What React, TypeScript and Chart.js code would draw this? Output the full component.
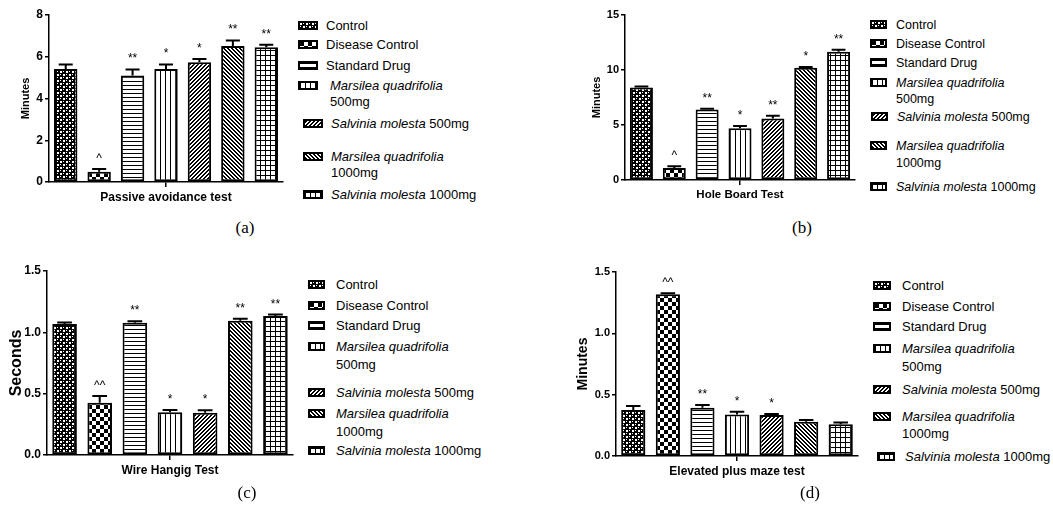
import React, { useEffect, useRef } from "react";
import { Chart, registerables } from "chart.js";

Chart.register(...registerables);

// ---------- DATA ----------
const groups = [
  "Control",
  "Disease Control",
  "Standard Drug",
  "Marsilea quadrifolia 500mg",
  "Salvinia molesta 500mg",
  "Marsilea quadrifolia 1000mg",
  "Salvinia molesta 1000mg",
];

const passiveLabel = "Passive avoidance test";
const passiveMean = [5.41, 0.49, 5.1, 5.41, 5.74, 6.52, 6.46];
const passiveSem = [0.22, 0.13, 0.29, 0.22, 0.15, 0.26, 0.11];
const passiveSig = ["", "^", "**", "*", "*", "**", "**"];
const passiveTicks = [0, 2, 4, 6, 8];

const holeLabel = "Hole Board Test";
const holeMean = [8.4, 1.1, 6.4, 4.7, 5.6, 10.2, 11.65];
const holeSem = [0.1, 0.15, 0.08, 0.2, 0.25, 0.08, 0.18];
const holeSig = ["", "^", "**", "*", "**", "*", "**"];
const holeTicks = [0, 5, 10, 15];

const wireLabel = "Wire Hangig Test";
const wireMean = [1.067, 0.426, 1.078, 0.348, 0.345, 1.095, 1.133];
const wireSem = [0.013, 0.055, 0.012, 0.019, 0.02, 0.016, 0.012];
const wireSig = ["", "^^", "**", "*", "*", "**", "**"];
const wireTicks = [0, 0.5, 1.0, 1.5];

const mazeLabel = "Elevated plus maze test";
const mazeMean = [0.374, 1.318, 0.393, 0.339, 0.334, 0.279, 0.258];
const mazeSem = [0.033, 0.008, 0.022, 0.021, 0.008, 0.014, 0.016];
const mazeSig = ["", "^^", "**", "*", "*", "", ""];
const mazeTicks = [0, 0.5, 1.0, 1.5];

// legend text: each item is a list of lines, each line = [italic part, normal part]
const legendText: [string, string][][] = [
  [["", "Control"]],
  [["", "Disease Control"]],
  [["", "Standard Drug"]],
  [["Marsilea quadrifolia", ""], ["", "500mg"]],
  [["Salvinia molesta", " 500mg"]],
  [["Marsilea quadrifolia", ""], ["", "1000mg"]],
  [["Salvinia molesta", " 1000mg"]],
];

// ---------- PATTERNS ----------
const patternKinds = ["dots", "checker", "hlines", "vlines", "diagUp", "diagDown", "grid"];

function makeTile(kind: string): HTMLCanvasElement {
  const c = document.createElement("canvas");
  let w = 4,
    h = 4;
  if (kind === "dots") { w = 6; h = 6; }
  if (kind === "checker") { w = 8; h = 8; }
  if (kind === "vlines") { w = 5; h = 5; }
  if (kind === "grid") { w = 5; h = 5; }
  c.width = w;
  c.height = h;
  const g = c.getContext("2d")!;
  g.fillStyle = "#fff";
  g.fillRect(0, 0, w, h);
  g.fillStyle = "#000";
  switch (kind) {
    case "dots":
      g.fillRect(0, 0, w, h);
      g.fillStyle = "#fff";
      g.fillRect(0, 0, 2, 2);
      g.fillRect(3, 3, 2, 2);
      g.fillRect(3, 0, 1, 1);
      g.fillRect(0, 3, 1, 1);
      break;
    case "checker":
      g.fillRect(0, 0, 4, 4);
      g.fillRect(4, 4, 4, 4);
      break;
    case "hlines":
      g.fillRect(0, 0, w, 1);
      break;
    case "vlines":
      g.fillRect(0, 0, 1, h);
      break;
    case "diagUp":
      for (let x = 0; x < w; x++)
        for (let y = 0; y < h; y++) if ((x + y) % 4 === 0 || (x + y) % 4 === 1) g.fillRect(x, y, 1, 1);
      break;
    case "diagDown":
      for (let x = 0; x < w; x++)
        for (let y = 0; y < h; y++) {
          const d = (x - y + 8) % 4;
          if (d === 0 || d === 1) g.fillRect(x, y, 1, 1);
        }
      break;
    case "grid":
      g.fillRect(0, 0, w, 1);
      g.fillRect(0, 0, 1, h);
      break;
  }
  return c;
}

let tileCache: HTMLCanvasElement[] | null = null;
let urlCache: string[] | null = null;
function getTiles() {
  if (!tileCache) tileCache = patternKinds.map(makeTile);
  return tileCache;
}
function getUrls() {
  if (!urlCache) urlCache = getTiles().map((t) => t.toDataURL());
  return urlCache;
}

// ---------- LAYOUT ----------
const FONT = "'Liberation Sans', Arial, Helvetica, sans-serif";

type Panel = {
  label: string;
  mean: number[];
  sem: number[];
  sig: string[];
  ticks: number[];
  decimals: number;
  yTitle: string;
  left: number;
  top: number;
  width: number;
  height: number;
  padT: number;
  padR: number;
  wy: number;
  xh: number;
  titlePad: number;
  titleSize: number;
  tickSize: number;
  labelSize: number;
  caption: string;
  capX: number;
  capY: number;
  iconX: number[];
  textX: number[];
  rowsY: number[][];
  iconW: number;
  legendSize: number;
};

const panels: Panel[] = [
  {
    label: passiveLabel, mean: passiveMean, sem: passiveSem, sig: passiveSig, ticks: passiveTicks, decimals: 0,
    yTitle: "Minutes", left: 0, top: 5, width: 288, height: 207, padT: 10, padR: 5, wy: 49, xh: 30,
    titlePad: 18.9, titleSize: 11, tickSize: 12, labelSize: 12,
    caption: "(a)", capX: 245, capY: 228,
    iconX: [298, 298, 298, 298, 303, 303, 303], textX: [326, 326, 326, 330, 331, 331, 331],
    rowsY: [[26], [45], [66], [86, 102], [124], [157, 173], [195]], iconW: 20, legendSize: 13,
  },
  {
    label: holeLabel, mean: holeMean, sem: holeSem, sig: holeSig, ticks: holeTicks, decimals: 0,
    yTitle: "Minutes", left: 570, top: 5, width: 290, height: 205, padT: 10, padR: 5, wy: 55, xh: 30,
    titlePad: 20.1, titleSize: 11, tickSize: 11, labelSize: 11.5,
    caption: "(b)", capX: 802, capY: 228,
    iconX: [870, 870, 870, 870, 871, 870, 870], textX: [896, 896, 896, 896, 897, 896, 896],
    rowsY: [[25], [44], [63], [83, 99], [117], [146, 163], [187]], iconW: 17, legendSize: 12.5,
  },
  {
    label: wireLabel, mean: wireMean, sem: wireSem, sig: wireSig, ticks: wireTicks, decimals: 1,
    yTitle: "Seconds", left: 0, top: 261, width: 298, height: 224, padT: 10, padR: 5, wy: 47, xh: 30,
    titlePad: 7.1, titleSize: 16, tickSize: 12, labelSize: 12,
    caption: "(c)", capX: 247, capY: 493,
    iconX: [308, 308, 308, 308, 308, 308, 308], textX: [336, 336, 336, 336, 336, 336, 336],
    rowsY: [[285], [306], [326], [347, 365], [393], [414, 432], [451]], iconW: 17, legendSize: 13,
  },
  {
    label: mazeLabel, mean: mazeMean, sem: mazeSem, sig: mazeSig, ticks: mazeTicks, decimals: 1,
    yTitle: "Minutes", left: 560, top: 262, width: 303, height: 224, padT: 10, padR: 5, wy: 56, xh: 30,
    titlePad: 14.6, titleSize: 14, tickSize: 11, labelSize: 12,
    caption: "(d)", capX: 810, capY: 493,
    iconX: [873, 873, 873, 873, 873, 873, 877], textX: [902, 902, 902, 902, 902, 902, 905],
    rowsY: [[286], [307], [327], [349, 367], [390], [417, 434], [457]], iconW: 18, legendSize: 13,
  },
];

function buildChart(canvas: HTMLCanvasElement, p: Panel): Chart {
  const ctx = canvas.getContext("2d")!;
  const tiles = getTiles();
  const datasets = groups.map((g, i) => ({
    label: g,
    data: [p.mean[i]],
    backgroundColor: ctx.createPattern(tiles[i], "repeat") as any,
    borderColor: "#000",
    borderWidth: 2,
    borderSkipped: false as any,
    barPercentage: 0.7,
    categoryPercentage: 1,
  }));

  const errPlugin = {
    id: "errbars",
    afterDatasetsDraw(chart: any) {
      const c = chart.ctx as CanvasRenderingContext2D;
      const ys = chart.scales.y;
      c.save();
      c.strokeStyle = "#000";
      c.lineWidth = 2;
      chart.data.datasets.forEach((_ds: any, i: number) => {
        const bar = chart.getDatasetMeta(i).data[0] as any;
        const top = ys.getPixelForValue(p.mean[i] + p.sem[i]);
        const half = bar.width * 0.3;
        c.beginPath();
        c.moveTo(bar.x, bar.y);
        c.lineTo(bar.x, top);
        c.moveTo(bar.x - half, top);
        c.lineTo(bar.x + half, top);
        c.stroke();
        if (p.sig[i]) {
          c.fillStyle = "#000";
          c.font = `12px ${FONT}`;
          c.textAlign = "center";
          c.textBaseline = "alphabetic";
          c.fillText(p.sig[i], bar.x, top - 7);
        }
      });
      c.restore();
    },
  };

  return new Chart(canvas, {
    type: "bar",
    data: { labels: [p.label], datasets },
    options: {
      animation: false,
      responsive: false,
      devicePixelRatio: 1,
      layout: { padding: { left: 0, right: p.padR, top: p.padT, bottom: 0 } },
      plugins: { legend: { display: false }, tooltip: { enabled: false } },
      scales: {
        x: {
          grid: { display: true, drawOnChartArea: false, drawTicks: true, tickLength: 5, offset: false, color: "#000", lineWidth: 1.5 },
          border: { display: true, color: "#000", width: 1.5 },
          ticks: { color: "#000", font: { family: FONT, size: p.labelSize, weight: "bold" }, padding: 3, maxRotation: 0 },
          afterFit: (s: any) => { s.height = p.xh; },
        },
        y: {
          min: p.ticks[0],
          max: p.ticks[p.ticks.length - 1],
          afterBuildTicks: (s: any) => { s.ticks = p.ticks.map((v) => ({ value: v })); },
          grid: { display: true, drawOnChartArea: false, drawTicks: true, tickLength: 4, color: "#000", lineWidth: 1.5 },
          border: { display: true, color: "#000", width: 1.5 },
          ticks: {
            color: "#000",
            padding: 2,
            font: { family: FONT, size: p.tickSize, weight: "bold" },
            callback: (v: any) => Number(v).toFixed(p.decimals),
          },
          title: {
            display: true,
            text: p.yTitle,
            color: "#000",
            font: { family: FONT, size: p.titleSize, weight: "bold" },
            padding: { top: p.titlePad, bottom: 0 },
          },
          afterFit: (s: any) => { s.width = p.wy; },
        },
      },
    } as any,
    plugins: [errPlugin],
  });
}

function ChartPanel({ p }: { p: Panel }) {
  const ref = useRef<HTMLCanvasElement | null>(null);
  useEffect(() => {
    if (!ref.current) return;
    const ch = buildChart(ref.current, p);
    return () => ch.destroy();
  }, [p]);
  return (
    <canvas
      ref={ref}
      width={p.width}
      height={p.height}
      style={{ position: "absolute", left: p.left, top: p.top, width: p.width, height: p.height }}
    />
  );
}

function Legend({ p }: { p: Panel }) {
  const urls = getUrls();
  const items: React.ReactNode[] = [];
  legendText.forEach((lines, i) => {
    const ys = p.rowsY[i];
    items.push(
      <span
        key={`icon${i}`}
        style={{
          position: "absolute",
          left: p.iconX[i],
          top: ys[0] - 5,
          width: p.iconW,
          height: 9,
          boxSizing: "border-box",
          border: "2px solid #000",
          backgroundColor: "#555",
          backgroundImage: `url(${urls[i]})`,
          backgroundRepeat: "repeat",
          imageRendering: "pixelated",
        }}
      />
    );
    lines.forEach((ln, j) => {
      items.push(
        <div
          key={`t${i}_${j}`}
          style={{
            position: "absolute",
            left: p.textX[i],
            top: ys[j] - 8,
            height: 16,
            lineHeight: "16px",
            fontFamily: FONT,
            fontSize: p.legendSize,
            color: "#000",
            whiteSpace: "pre",
          }}
        >
          {ln[0] ? <i>{ln[0]}</i> : null}
          {ln[1]}
        </div>
      );
    });
  });
  return <>{items}</>;
}

export default function App() {
  return (
    <div style={{ position: "absolute", left: 0, top: 0, width: 1053, height: 516, background: "#fff", overflow: "hidden" }}>
      {panels.map((p, k) => (
        <React.Fragment key={k}>
          <ChartPanel p={p} />
          <Legend p={p} />
          <div
            style={{
              position: "absolute",
              left: p.capX - 20,
              top: p.capY - 11,
              width: 40,
              textAlign: "center",
              fontFamily: "'Liberation Serif', 'DejaVu Serif', serif",
              fontSize: 17,
              lineHeight: "22px",
              color: "#000",
            }}
          >
            {p.caption}
          </div>
        </React.Fragment>
      ))}
    </div>
  );
}
